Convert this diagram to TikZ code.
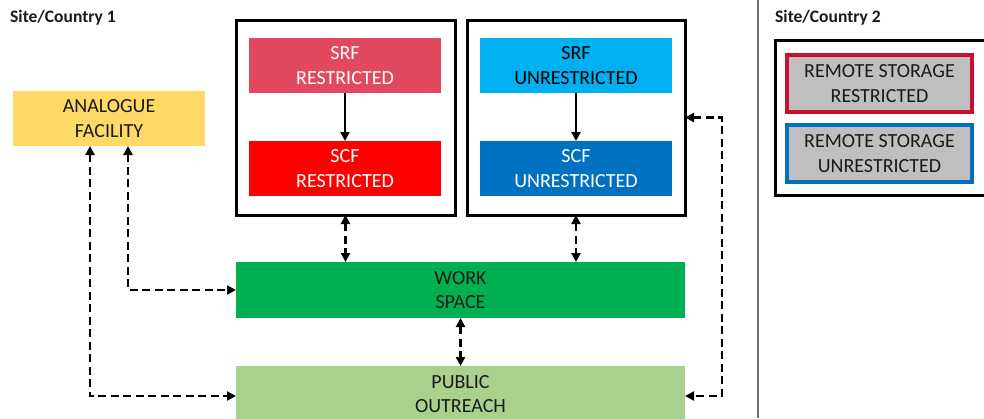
\documentclass[tikz,border=0pt]{standalone}
\usepackage{fontspec}
\setmainfont{Carlito}
\usetikzlibrary{arrows.meta,positioning}

\definecolor{analogue}{HTML}{FFD966}
\definecolor{srfres}{HTML}{E2495F}
\definecolor{scfres}{HTML}{FF0000}
\definecolor{srfunres}{HTML}{00B0F0}
\definecolor{scfunres}{HTML}{0070C0}
\definecolor{workcol}{HTML}{00B050}
\definecolor{publiccol}{HTML}{A9D18E}
\definecolor{remotefill}{HTML}{BFBFBF}
\definecolor{remotered}{HTML}{C8102E}
\definecolor{remoteblue}{HTML}{0070C0}
\definecolor{txt}{HTML}{1A1A1A}

\tikzset{
  x=1pt, y=-1pt,
  box/.style={rectangle, inner sep=0pt, outer sep=0pt, align=center,
    font=\fontsize{20}{24.5}\selectfont, text=txt},
  facility/.style={box, minimum width=192pt, minimum height=55pt},
  container/.style={rectangle, draw=black, line width=3pt, inner sep=0pt, outer sep=0pt},
  remote/.style={box, fill=remotefill, line width=3.5pt,
    minimum width=185pt, minimum height=57pt},
  sitelabel/.style={anchor=west, inner sep=0pt, font=\bfseries\fontsize{17.5}{20}\selectfont, text=txt},
  flow/.style={line width=2.6pt, -{Triangle[length=9pt,width=9pt]}},
  link/.style={line width=2.8pt, dash pattern=on 8pt off 4.5pt,
    {Triangle[length=9pt,width=9pt]}-{Triangle[length=9pt,width=9pt]}},
}

\begin{document}
\begin{tikzpicture}
\useasboundingbox (0,0) rectangle (984,418);
\clip (0,0) rectangle (984,418);

% site labels and divider
\node[sitelabel] (site1) at (10,18) {Site/Country 1};
\node[sitelabel] (site2) at (775,18) {Site/Country 2};
\draw[line width=1.6pt, black!55] (758,0) -- (758,418);

% containers of the storage facilities
\node[container, minimum width=219pt, minimum height=195pt] (contR) at (345.5,117.5) {};
\node[container, minimum width=218pt, minimum height=195pt] (contU) at (576,117.5) {};

% facilities
\node[facility, fill=analogue] (analogue) at (109,118.5) {ANALOGUE\\FACILITY};
\node[facility, fill=srfres, text=white] (srfR) at (345,65.5) {SRF\\RESTRICTED};
\node[facility, fill=scfres, text=white] (scfR) at (345,168.5) {SCF\\RESTRICTED};
\node[facility, fill=srfunres, text=black] (srfU) at (576,65.5) {SRF\\UNRESTRICTED};
\node[facility, fill=scfunres, text=white] (scfU) at (576,168.5) {SCF\\UNRESTRICTED};
\node[box, fill=workcol, minimum width=449pt, minimum height=56pt] (work) at (460.5,290) {WORK\\SPACE};
\node[box, fill=publiccol, minimum width=449pt, minimum height=56pt] (public) at (460.5,394) {PUBLIC\\OUTREACH};

% remote storage at the second site
\node[container, minimum width=220pt, minimum height=155pt] (remoteC) at (885,117.5) {};
\node[remote, draw=remotered] (remR) at (879.5,83.5) {REMOTE STORAGE\\RESTRICTED};
\node[remote, draw=remoteblue] (remU) at (879.5,153.5) {REMOTE STORAGE\\UNRESTRICTED};

% solid transfers within each container
\draw[flow] (srfR) -- (scfR);
\draw[flow] (srfU) -- (scfU);

% dashed two-way links
\draw[link] (contR.south) -- (work.north -| contR.south);
\draw[link] (contU.south) -- (work.north -| contU.south);
\draw[link] (work.south) -- (public.north);
\draw[link] ([xshift=115pt]analogue.south west) |- (work.west);
\draw[link] ([xshift=77pt]analogue.south west) |- ([yshift=-2pt]public.west);
\draw[link] (contU.east) -- ++(37,0) |- ([yshift=-2pt]public.east);
\end{tikzpicture}
\end{document}
